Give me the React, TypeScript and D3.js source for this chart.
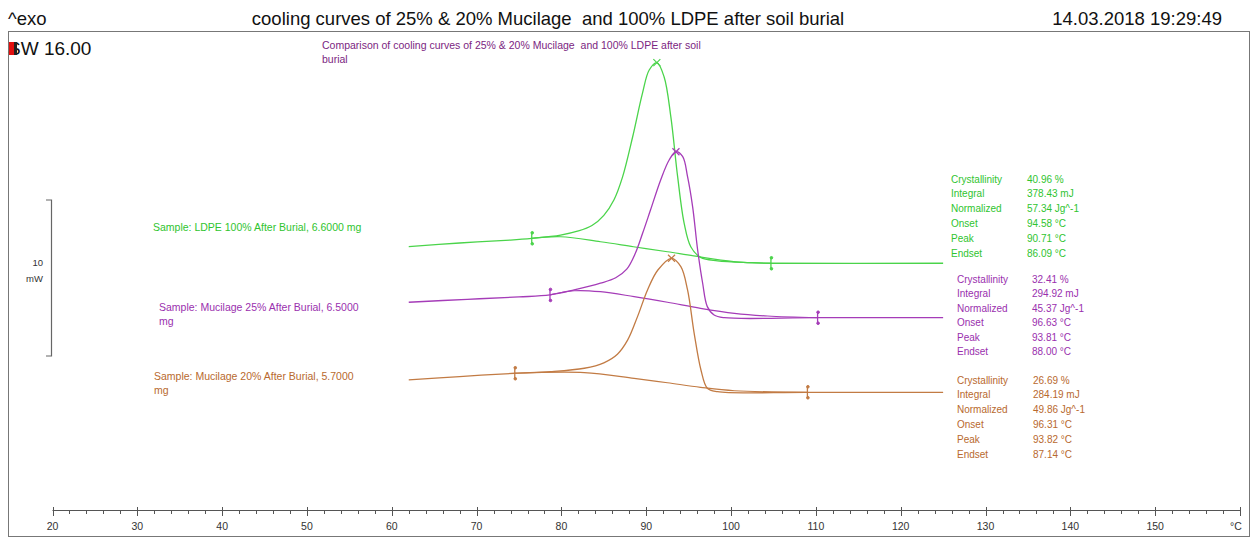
import * as d3 from "d3";

// heat flow traces (mW, with instrument offset) vs temperature (°C)
const ldpeT = [62, 68, 74, 76.5, 79.9, 82.0, 83.6, 85.0, 86.2, 87.2, 88.4, 89.55, 90.35, 91.25, 92.1, 92.9, 93.7, 94.47, 95.25, 96.4, 98.4, 102.3, 104.7, 125];
const ldpeMW = [16.95, 17.18, 17.37, 17.48, 17.69, 17.95, 18.3, 18.95, 19.95, 21.4, 23.99, 26.77, 28.27, 28.74, 27.84, 25.27, 21.43, 18.44, 16.94, 16.26, 16.04, 15.92, 15.88, 15.88];
const ldpeBaseT = [76.5, 79.9, 84.6, 88.5, 92.5, 95.6, 100.3, 104.7];
const ldpeBaseMW = [17.48, 17.58, 17.26, 16.94, 16.62, 16.35, 15.99, 15.88];

const muc25T = [62, 68.9, 75, 78.65, 81.5, 84.6, 86.4, 87.7, 88.7, 89.6, 90.5, 91.7, 92.7, 93.5, 94.3, 94.87, 95.47, 96.06, 96.65, 97.2, 98.0, 99.2, 110.2, 125];
const muc25MW = [13.38, 13.57, 13.72, 13.85, 14.17, 14.6, 14.95, 15.5, 16.5, 17.85, 19.29, 21.22, 22.5, 23.03, 22.71, 21.43, 19.5, 16.73, 14.6, 13.1, 12.56, 12.39, 12.39, 12.39];
const muc25BaseT = [78.65, 81.5, 84.6, 88.57, 92.5, 96.4, 100.4, 104.3, 110.2];
const muc25BaseMW = [13.85, 14.12, 14.06, 13.74, 13.38, 12.99, 12.67, 12.5, 12.39];

const muc20T = [62, 68, 74.5, 78.7, 82.7, 85.0, 86.6, 87.8, 88.97, 90.15, 91.37, 92.98, 94.08, 94.87, 95.65, 96.45, 97.2, 98.4, 109.0, 125];
const muc20MW = [8.4, 8.62, 8.83, 8.93, 9.15, 9.5, 10.05, 10.95, 12.46, 14.17, 15.45, 16.2, 15.66, 14.17, 11.39, 9.04, 7.87, 7.65, 7.61, 7.61];
const muc20BaseT = [74.5, 76.8, 82.7, 88.57, 92.5, 96.4, 100.4, 109.0];
const muc20BaseMW = [8.83, 8.87, 8.87, 8.5, 8.22, 7.93, 7.71, 7.61];

// integration limits and peak positions (°C)
const limitsLeft = [76.5, 78.65, 74.5];
const limitsRight = [104.7, 110.2, 109.0];
const peakT = [91.25, 93.5, 92.98];

const sampleLabels = [
  ["Sample: LDPE 100% After Burial, 6.6000 mg"],
  ["Sample: Mucilage 25% After Burial, 6.5000", "mg"],
  ["Sample: Mucilage 20% After Burial, 5.7000", "mg"],
];
const resultNames = ["Crystallinity", "Integral", "Normalized", "Onset", "Peak", "Endset"];
const ldpeResults = ["40.96 %", "378.43 mJ", "57.34 Jg^-1", "94.58 °C", "90.71 °C", "86.09 °C"];
const muc25Results = ["32.41 %", "294.92 mJ", "45.37 Jg^-1", "96.63 °C", "93.81 °C", "88.00 °C"];
const muc20Results = ["26.69 %", "284.19 mJ", "49.86 Jg^-1", "96.31 °C", "93.82 °C", "87.14 °C"];

const majorTicks = d3.range(20, 151, 10);
const minorTicks = d3.range(20, 161, 2);

const W = 1253;
const H = 538;
const FONT = "'Liberation Sans', Arial, sans-serif";

export default function App() {
  document.body.style.margin = "0";

  const x = d3.scaleLinear().domain([20, 160]).range([52.5, 1240]);
  const y = d3.scaleLinear().domain([0, 30]).range([511, 43]);
  const axisY = 510;

  const line = d3
    .line<[number, number]>()
    .x((d) => x(d[0]))
    .y((d) => y(d[1]))
    .curve(d3.curveCatmullRom.alpha(0.5));

  const zip = (a: number[], b: number[]) => a.map((t, i) => [t, b[i]] as [number, number]);

  const series = [
    { t: ldpeT, v: ldpeMW, bt: ldpeBaseT, bv: ldpeBaseMW, color: "#4ad44a", text: "#2fc42f", res: ldpeResults, rx: 951, vx: 1027, ry: 179, step: 14.9, lx: 153, ly: 231 },
    { t: muc25T, v: muc25MW, bt: muc25BaseT, bv: muc25BaseMW, color: "#a53cb8", text: "#9a2fae", res: muc25Results, rx: 957, vx: 1032, ry: 279, step: 14.5, lx: 159, ly: 311 },
    { t: muc20T, v: muc20MW, bt: muc20BaseT, bv: muc20BaseMW, color: "#c27b44", text: "#b8692e", res: muc20Results, rx: 957, vx: 1033, ry: 380, step: 14.9, lx: 154, ly: 380 },
  ];

  const valueAt = (t: number[], v: number[], T: number) => d3.scaleLinear().domain(t).range(v)(T);
  const pre = { whiteSpace: "pre" as const };

  return (
    <svg width={W} height={H} style={{ position: "absolute", left: 0, top: 0, background: "#fff" }} fontFamily={FONT}>
      {/* header */}
      <text x={8} y={25} fontSize={18.5} fill="#111">^exo</text>
      <text x={548} y={25} fontSize={18.5} fill="#111" textAnchor="middle" style={pre}>
        cooling curves of 25% &amp; 20% Mucilage  and 100% LDPE after soil burial
      </text>
      <text x={1222} y={25} fontSize={18.5} fill="#111" textAnchor="end">14.03.2018 19:29:49</text>

      {/* frame */}
      <rect x={8.5} y={31.5} width={1241} height={505} fill="none" stroke="#777" strokeWidth={1} />

      <text x={8} y={55} fontSize={19} fill="#111">SW 16.00</text>
      <rect x={9} y={42} width={5} height={13} fill="#e01010" />
      <rect x={14} y={42} width={3} height={13} fill="#222" />

      <text x={322} y={49} fontSize={10.5} fill="#7b2581" style={pre}>
        Comparison of cooling curves of 25% &amp; 20% Mucilage  and 100% LDPE after soil
      </text>
      <text x={322} y={63} fontSize={10.5} fill="#7b2581">burial</text>

      {/* 10 mW scale bar */}
      <path d={`M46,${200}H51.5V${200 + (y(0) - y(10))}H46`} fill="none" stroke="#666" strokeWidth={1.2} />
      <text x={43} y={266} fontSize={9.5} fill="#333" textAnchor="end">10</text>
      <text x={43} y={282} fontSize={9.5} fill="#333" textAnchor="end">mW</text>

      {/* sample labels */}
      {series.map((s, i) =>
        sampleLabels[i].map((ln, j) => (
          <text key={`l${i}${j}`} x={s.lx} y={s.ly + j * 14} fontSize={10.5} fill={s.text}>{ln}</text>
        ))
      )}

      {/* curves */}
      {series.map((s, i) => {
        const lT = limitsLeft[i];
        const rT = limitsRight[i];
        const pT = peakT[i];
        const lv = valueAt(s.t, s.v, lT);
        const rv = valueAt(s.t, s.v, rT);
        const pv = d3.max(s.v) as number;
        return (
          <g key={`c${i}`}>
            <path d={line(zip(s.t, s.v)) ?? ""} fill="none" stroke={s.color} strokeWidth={1.3} />
            <path d={line(zip(s.bt, s.bv)) ?? ""} fill="none" stroke={s.color} strokeWidth={1.2} />
            {[[lT, lv], [rT, rv]].map(([T, v], k) => (
              <g key={k} stroke={s.color} fill={s.color}>
                <line x1={x(T)} x2={x(T)} y1={y(v) - 6} y2={y(v) + 6} strokeWidth={1.3} />
                <circle cx={x(T) + 0.5} cy={y(v) - 5.5} r={1.3} />
                <circle cx={x(T) + 0.5} cy={y(v) + 5.5} r={1.3} />
              </g>
            ))}
            <g stroke={s.color} strokeWidth={1.2}>
              <line x1={x(pT) - 3.5} x2={x(pT) + 3.5} y1={y(pv) - 3.5} y2={y(pv) + 3.5} />
              <line x1={x(pT) - 3.5} x2={x(pT) + 3.5} y1={y(pv) + 3.5} y2={y(pv) - 3.5} />
            </g>
          </g>
        );
      })}

      {/* results tables */}
      {series.map((s, i) => (
        <g key={`r${i}`} fontSize={10} fill={s.text}>
          {resultNames.map((n, j) => (
            <g key={n}>
              <text x={s.rx} y={s.ry + 3.5 + j * s.step}>{n}</text>
              <text x={s.vx} y={s.ry + 3.5 + j * s.step}>{s.res[j]}</text>
            </g>
          ))}
        </g>
      ))}

      {/* temperature axis */}
      <g stroke="#555" strokeWidth={1}>
        <line x1={x(20)} x2={x(160)} y1={axisY + 0.5} y2={axisY + 0.5} />
        {minorTicks.map((t) => (
          <line key={`m${t}`} x1={Math.round(x(t)) + 0.5} x2={Math.round(x(t)) + 0.5} y1={axisY} y2={axisY + 4} />
        ))}
        {[...majorTicks, 160].map((t) => (
          <line key={`M${t}`} x1={Math.round(x(t)) + 0.5} x2={Math.round(x(t)) + 0.5} y1={axisY - 3} y2={axisY + 6} />
        ))}
      </g>
      {majorTicks.map((t) => (
        <text key={`t${t}`} x={x(t)} y={530} fontSize={10.5} fill="#333" textAnchor="middle">{t}</text>
      ))}
      <text x={x(160) - 4} y={530} fontSize={10.5} fill="#333" textAnchor="middle">°C</text>
    </svg>
  );
}
